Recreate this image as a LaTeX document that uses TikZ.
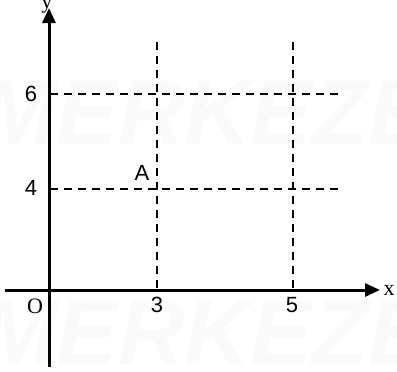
\documentclass[tikz,border=0pt]{standalone}
\usepackage{fontspec}
\setmainfont{Liberation Serif}
\newfontfamily\arialf{Liberation Sans}
\usetikzlibrary{arrows.meta}
\begin{document}
\begin{tikzpicture}[x=1pt,y=-1pt,
  axis/.style={line width=3pt,-{Triangle[length=15pt,width=13pt]}},
  guide/.style={line width=2pt,dash pattern=on 8pt off 6pt},
  num/.style={font=\arialf\fontsize{22}{26}\selectfont,inner sep=0pt},
  ser/.style={font=\fontsize{22}{26}\selectfont,inner sep=0pt},
  wm/.style={font=\arialf\bfseries\itshape\fontsize{92}{100}\selectfont,text=black!2,inner sep=0pt}]
\useasboundingbox (0,0) rectangle (397,372);
\node[wm] (w1) at (205,113) {MERKEZE};
\node[wm] (w2) at (205,333) {MERKEZE};
\coordinate (yb) at (49,367);
\coordinate (yt) at (49,8);
\coordinate (xl) at (5,290);
\coordinate (xr) at (380,290);
\coordinate (v3t) at (157,42);
\coordinate (v3b) at (157,290);
\coordinate (v5t) at (293,42);
\coordinate (v5b) at (293,290);
\coordinate (h6l) at (50,94);
\coordinate (h6r) at (341,94);
\coordinate (h4l) at (50,189);
\coordinate (h4r) at (343,189);
\draw[guide] (v3t) -- (v3b);
\draw[guide] (v5t) -- (v5b);
\draw[guide] (h6l) -- (h6r);
\draw[guide] (h4l) -- (h4r);
\draw[axis] (yb) -- (yt);
\draw[axis] (xl) -- (xr);
\node[ser] (lx) at (389,290) {x};
\node[ser] (ly) at (47,6) {y};
\node[ser] (lo) at (35,306) {O};
\node[num] (l6) at (31,94) {6};
\node[num] (l4) at (31,188) {4};
\node[num] (l3) at (157,305) {3};
\node[num] (l5) at (292,305) {5};
\node[num] (la) at (142,173) {A};
\end{tikzpicture}
\end{document}
